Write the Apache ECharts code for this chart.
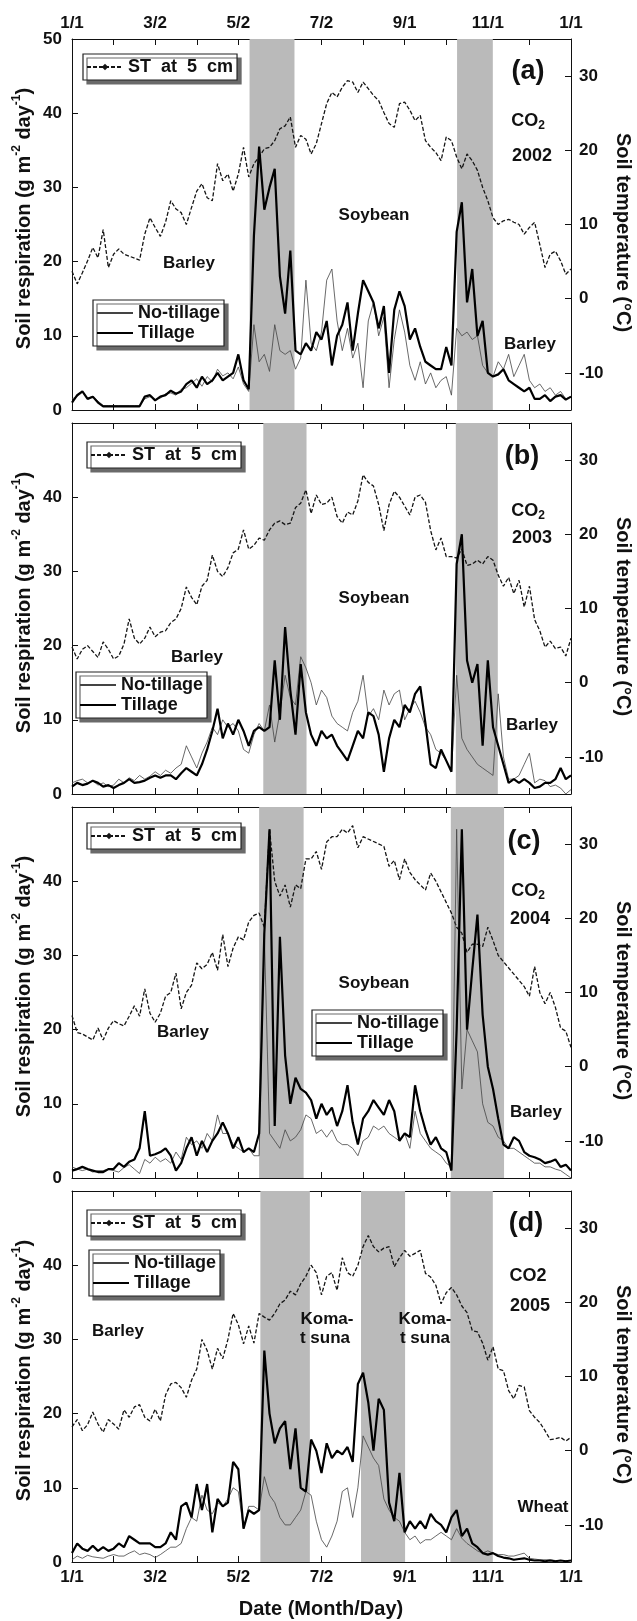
<!DOCTYPE html>
<html>
<head>
<meta charset="utf-8">
<script src="https://cdn.jsdelivr.net/npm/echarts@6/dist/echarts.min.js"></script>
<style>
  html, body { margin: 0; padding: 0; background: #fff; }
  #chart { width: 637px; height: 1621px; }
</style>
</head>
<body>
<div id="chart"></div>
<script>
// x axis: months since 1/1, one sample every 1/8 month
const SAMPLES_PER_MONTH = 8;
const dateLabels = ['1/1', '3/2', '5/2', '7/2', '9/1', '11/1', '1/1'];
const tempTicks = [-10, 0, 10, 20, 30];
const years = ['2002', '2003', '2004', '2005'];

// 2002 (a)
const stA = [
  3.7, 2.0, 3.5, 5.1, 6.9, 5.5, 9.3, 4.2,
  6.0, 6.7, 6.0, null, null, 5.2, 8.7, 10.9,
  9.6, 8.4, 10.3, 13.2, 12.1, 11.6, 10.0, 12.3,
  14.5, 15.5, 13.6, 13.2, 18.2, 15.9, 16.8, 14.5,
  16.8, 20.4, 16.4, 18.2, 19.1, 20.2, 20.4, 21.3,
  22.9, 23.3, 24.5, 20.4, 22.0, 21.5, 19.5, 20.9,
  23.6, 26.3, 27.8, 27.2, 28.5, 29.4, 29.2, 27.8,
  29.2, 28.3, 27.4, 26.7, 25.1, 23.6, 23.1, 26.3,
  26.5, 25.4, 24.0, 24.7, 21.3, 20.4, 19.7, 18.6,
  21.8, 21.3, 19.1, 17.5, 19.5, 18.6, 17.3, 15.0,
  13.2, 10.9, 10.0, 10.5, 10.7, 10.3, 10.0, 8.7,
  9.6, 10.3, 7.3, 4.2, 6.0, 6.4, 5.1, 3.3,
  4.0];
const ntA = [
  1.5, 1.8, 2.4, 1.6, 1.8, 1.2, 0.6, 0.6,
  0.6, 0.6, 0.6, 0.6, 0.6, 0.6, 1.5, 1.8,
  1.4, 1.6, 2.2, 2.3, 2.0, 2.8, 3.0, 3.6,
  4.2, 3.2, 4.5, 3.8, 5.5, 4.6, 5.0, 4.2,
  5.8, 3.5, 2.5, 11.5, 6.5, 7.5, 5.2, 11.5,
  8.0, 7.5, 8.0, 5.5, 7.0, 17.5, 9.0, 8.0,
  10.5, 17.5, 19.0, 12.0, 8.0, 11.0, 7.0, 9.0,
  3.0, 12.0, 14.5, 10.0, 12.5, 3.0, 9.5, 13.5,
  10.5, 6.0, 4.0, 6.5, 3.5, 5.0, 3.0, 4.0,
  4.5, 2.0, 11.0, 10.0, 10.5, 9.5, 10.0, 6.0,
  5.0, 4.5, 6.5, 5.5, 7.5, 4.5, 6.0, 7.5,
  4.0, 3.0, 3.5, 2.5, 3.0, 2.0, 2.5, 1.5,
  1.8];
const tlA = [
  1.0, 2.0, 2.5, 1.5, 1.8, 1.0, 0.5, 0.5,
  0.5, 0.5, 0.5, 0.5, 0.5, 0.5, 1.8, 2.0,
  1.3, 1.8, 2.0, 2.6, 2.2, 2.5, 3.5, 4.0,
  3.0, 4.5, 3.5, 4.0, 5.0, 4.0, 4.5, 5.0,
  7.5, 4.0, 2.8, 23.5, 35.5, 27.0, 30.0, 32.5,
  18.0, 13.0, 21.5, 8.0, 7.5, 9.0, 8.0, 10.5,
  9.5, 12.0, 6.0, 10.0, 11.5, 14.5, 8.0, 13.0,
  17.5, 16.0, 14.5, 11.0, 14.0, 5.0, 13.5, 16.0,
  14.0, 9.5, 11.0, 8.5, 6.5, 6.0, 5.5, 5.5,
  8.5, 6.0, 24.0, 28.0, 14.5, 19.0, 10.0, 12.0,
  5.0, 4.5, 4.8, 5.5, 4.0, 3.5, 3.0, 2.5,
  3.0, 1.5, 1.5, 2.0, 1.2, 1.8, 2.0, 1.4,
  1.8];
const bandsA = [[4.27, 5.35], [9.26, 10.12]];

// 2003 (b)
const stB = [
  4.8, 3.2, 4.5, 5.0, 4.2, 3.4, 5.5, 4.5,
  3.2, 3.6, 5.2, 8.6, 6.0, 5.2, 6.0, 7.5,
  6.2, 6.8, 7.0, 8.1, 8.6, 10.0, 12.9, 11.5,
  10.5, 13.0, 13.8, 17.2, 15.0, 14.3, 15.5, 17.5,
  18.0, 20.6, 18.0, 18.5, 19.5, 19.2, 20.6, 21.5,
  21.8, 21.3, 21.5, 23.6, 24.2, 26.0, 22.8, 25.3,
  24.0, 24.2, 25.0, 22.4, 21.5, 23.0, 22.6, 24.5,
  28.0, 27.0, 26.5, 24.0, 20.5, 24.0, 25.8, 25.0,
  23.8, 22.6, 25.0, 25.3, 24.3, 20.5, 17.9, 19.5,
  17.0, 17.0, 16.8, 18.0, 15.8, 16.0, 16.5, 16.0,
  17.0, 16.5, 14.5, 13.0, 14.2, 12.0, 13.8, 10.2,
  13.0, 8.5, 7.0, 4.8, 5.6, 4.6, 4.8, 3.6,
  6.0];
const ntB = [
  1.5, 1.8, 2.0, 1.5, 1.8, 1.2, 1.5, 1.0,
  1.2, 2.0, 1.5, 2.2, 1.8, 2.5, 2.0, 2.4,
  3.0, 2.5, 3.2, 2.8, 3.5, 4.0, 6.5, 5.0,
  3.5, 5.5, 7.0, 9.0, 8.0, 10.0, 9.0, 9.5,
  8.5, 6.0, 5.5, 8.0, 9.5, 8.5, 12.0, 7.0,
  11.0, 16.0, 13.0, 12.0, 18.5, 17.0, 15.0, 12.0,
  14.0, 13.0, 10.5, 9.5, 9.0, 8.5, 11.0, 12.5,
  16.0, 10.5, 11.5, 10.0, 14.0, 12.0, 13.5, 14.0,
  10.0, 11.5, 12.5, 11.0, 9.0, 8.0, 6.0, 5.5,
  4.5, 3.0, 16.0, 7.5, 6.0, 5.0, 4.0, 3.5,
  3.0, 2.5, 13.5, 5.0, 2.0, 2.0, 2.5, 4.0,
  5.5, 1.5, 2.0, 1.8, 1.0, 1.2, 0.8, 0.0,
  0.6];
const tlB = [
  1.0, 1.5, 1.2, 1.4, 1.8, 1.5, 1.0, 1.2,
  0.8, 1.2, 1.5, 2.0, 1.5, 1.6, 1.8, 2.2,
  2.5, 2.2, 2.5, 2.5, 2.0, 2.8, 3.5, 3.0,
  2.5, 4.0, 6.0, 8.5, 11.5, 7.5, 9.5, 8.0,
  10.0, 8.5, 6.5, 8.5, 9.0, 8.5, 9.0, 18.0,
  10.0, 22.5, 14.0, 8.0, 17.5, 11.0, 8.0, 6.5,
  8.5, 7.5, 8.0, 6.5, 5.5, 4.5, 6.5, 8.5,
  7.5, 11.0, 10.5, 8.0, 3.0, 7.5, 10.0, 9.0,
  12.0, 11.0, 13.5, 14.5, 9.5, 4.0, 3.5, 6.0,
  4.5, 3.0, 31.0, 35.0, 18.0, 15.0, 17.5, 6.5,
  18.0, 9.0, 6.5, 4.0, 1.5, 2.0, 1.5, 2.0,
  1.5, 0.8, 1.0, 1.5, 1.5, 2.0, 3.5, 2.0,
  2.5];
const bandsB = [[4.60, 5.64], [9.23, 10.24]];

// 2004 (c)
const stC = [
  6.9, 4.6, 4.4, 4.0, 3.6, 5.2, 3.6, 5.2,
  6.2, 5.8, 5.5, 6.8, 8.2, 6.8, 10.5, 7.2,
  6.0, 7.2, 9.5, 10.0, 12.6, 7.8, 10.0, 11.0,
  14.0, 13.2, 13.8, 15.4, 13.0, 17.8, 13.5, 16.0,
  17.5, 17.1, 19.5, 20.4, 20.7, 18.8, 32.0, 25.0,
  23.0, 24.5, 21.5, 24.5, 24.0, 28.0, 28.0, 29.0,
  26.6, 30.3, 31.0, 31.0, 32.0, 31.5, 32.5, 29.5,
  31.0, null, null, null, 29.7, 27.0, 27.8, 25.2,
  28.0, 26.2, 25.2, 24.5, 23.8, 26.1, 25.0, null,
  null, 20.7, 18.8, 18.0, 15.4, 16.5, 16.5, 16.2,
  18.8, 17.0, 15.0, null, null, null, null, 10.8,
  9.5, 13.5, 10.0, 8.5, 10.0, 8.0, 5.2, 4.8,
  2.6];
const ntC = [
  1.5, 1.2, 1.0, 1.2, 0.8, 1.0, 1.0, 1.2,
  1.0, 0.8, 1.4, 1.8, 1.2, 0.6, 2.5, 2.0,
  2.8, 2.2, 2.6, 2.0, 3.5, 2.5, 5.5, 4.5,
  5.0, 4.0, 6.0, 5.0, 8.5, 6.0, 6.0, 4.5,
  4.0, 3.5, 4.0, 3.0, 3.0, 33.0, 6.0, 5.0,
  4.0, 6.5, 5.0, 5.5, 6.5, 8.5, 8.0, 6.0,
  6.5, 5.5, 6.5, 5.0, 4.5, 4.5, 4.0, 3.0,
  5.0, 5.5, 7.0, 6.5, 7.0, 6.0, 5.5, 5.0,
  6.0, 4.0, 9.0, 6.0, 5.0, 4.0, 3.5, 3.0,
  2.0, 1.5, 47.0, 12.0, 20.0, 18.5, 17.0, 10.0,
  7.5, 7.0, 5.5, 5.0, 4.0, 4.0, 3.5, 3.0,
  2.5, 2.0, 2.0, 1.5, 1.5, 1.2, 1.0, 0.5,
  0.0];
const tlC = [
  1.0, 1.2, 1.5, 1.2, 1.0, 0.8, 0.8, 1.2,
  1.2, 2.0, 1.5, 2.2, 2.5, 4.0, 9.0, 3.0,
  3.2, 3.5, 4.0, 3.0, 1.0, 2.0, 4.0, 5.5,
  3.0, 5.0, 3.5, 5.0, 6.0, 7.5, 6.0, 4.0,
  5.5, 3.5, 4.0, 3.5, 6.0, 33.0, 47.0, 7.0,
  32.5, 16.5, 10.0, 13.5, 12.0, 11.5, 10.5, 8.0,
  10.0, 8.5, 9.5, 7.0, 9.0, 12.5, 7.5, 4.5,
  8.0, 9.0, 10.5, 9.5, 8.5, 10.5, 9.0, 5.0,
  6.0, 5.5, 12.5, 9.0, 6.5, 4.5, 5.5, 4.0,
  3.5, 1.0, 20.0, 47.0, 20.0, 28.0, 35.5, 22.0,
  15.0, 12.0, 8.0, 4.5, 4.0, 5.5, 5.0, 3.5,
  3.0, 2.8, 2.5, 2.0, 2.2, 2.5, 1.5, 1.8,
  1.0];
const bandsC = [[4.50, 5.57], [9.11, 10.39]];

// 2005 (d)
const stD = [
  3.2, 4.2, 2.7, 3.5, 5.2, 3.6, 2.5, 4.2,
  3.6, 2.9, 5.5, 4.5, 5.9, 6.2, 4.5, 4.0,
  5.6, 4.0, 7.5, 9.0, 9.2, 8.5, 7.2, 9.5,
  11.0, 15.0, 13.5, 11.0, 13.8, 12.4, 15.0, 18.5,
  17.0, 14.4, 16.8, 14.5, 18.5, 18.0, 17.6, 18.5,
  19.8, 20.3, 21.5, 21.0, 22.5, 23.5, 25.0, 24.0,
  21.0, 23.5, 24.0, 21.6, 26.0, 24.0, 23.5, 25.0,
  27.5, 29.0, 27.5, 26.8, 27.3, 27.5, 24.8, 26.0,
  27.0, 26.2, 26.6, 27.0, 23.9, 23.4, 22.3, 19.8,
  21.3, 22.0, 21.0, 19.5, 18.6, 16.2, 16.0, 14.5,
  12.2, 14.0, 11.0, 10.8, 8.1, 7.0, 8.8, 8.6,
  5.4, 4.5, 3.8, 2.7, 1.5, 1.6, 1.8, 1.3,
  1.8];
const ntD = [
  0.3, 0.8, 0.5, 0.9, 0.7, 0.6, 0.5, 0.8,
  1.0, 0.8, 0.8, 1.2, 1.5, 1.0, 1.2, 1.0,
  0.6, 1.0, 1.5, 2.0, 2.0, 2.5, 4.5, 6.0,
  5.5, 9.0, 7.0, 6.5, 8.0, 7.5, 8.5, 10.0,
  9.5, 4.5, 7.5, 7.5, 7.0, 11.5, 9.0, 8.0,
  6.0, 5.0, 5.0, 6.0, 7.0, 9.5, 9.0, 5.5,
  3.0, 2.0, 3.5, 5.5, 9.5, 10.0, 6.0, 10.0,
  17.0, 15.5, 14.0, 13.0, 8.5, 7.0, 6.0, 5.5,
  4.0, 3.0, 3.5, 2.5, 3.0, 3.0, 3.5, 4.0,
  3.5, 3.0, 4.5, 3.2, 2.5, 2.0, 1.5, 1.2,
  1.5, 1.2, 1.0, 1.0, 0.8, 0.8, 1.0, 1.2,
  0.5, 0.4, 0.3, 0.3, 0.3, 0.2, 0.2, 0.2,
  0.2];
const tlD = [
  1.2, 2.5, 1.8, 1.5, 2.2, 1.5, 2.0, 1.5,
  1.8, 2.5, 2.0, 3.5, 3.0, 2.5, 2.5, 2.5,
  2.0, 2.0, 2.5, 4.0, 3.0, 7.5, 8.0, 6.0,
  10.5, 7.0, 10.5, 4.0, 8.5, 7.5, 8.0, 13.5,
  12.5, 4.5, 7.0, 6.5, 7.0, 28.5, 20.0, 16.0,
  18.0, 19.0, 12.5, 18.0, 10.0, 9.5, 16.5, 15.0,
  12.0, 16.0, 14.0, 15.0, 14.5, 15.5, 13.5, 24.0,
  25.5, 21.5, 15.0, 22.0, 20.5, 8.0, 5.5, 12.0,
  4.0, 5.5, 4.5, 5.5, 4.5, 6.5, 5.5, 5.0,
  4.0, 6.0, 7.0, 3.5, 4.5, 2.5, 2.0, 1.2,
  1.0, 1.2, 0.8, 0.6, 0.5, 0.3, 0.4, 0.5,
  0.3, 0.2, 0.2, 0.1, 0.2, 0.1, 0.2, 0.1,
  0.2];
const bandsD = [[4.53, 5.72], [6.95, 8.01], [9.10, 10.12]];

const FONT = 'Liberation Sans';
const INK = '#111';
const BAND = '#bababa';
const ST_NAME = 'ST  at  5  cm';

const panels = [
  { st: stA, nt: ntA, tl: tlA, bands: bandsA },
  { st: stB, nt: ntB, tl: tlB, bands: bandsB },
  { st: stC, nt: ntC, tl: tlC, bands: bandsC },
  { st: stD, nt: ntD, tl: tlD, bands: bandsD }
];
const gridTops = [39, 423, 807, 1191];
const PLOT_H = 371;
const stLegendPos = [[83, 54], [87, 442], [87, 823], [87, 1210]];
const ntLegendPos = [[93, 300], [76, 672], [312, 1010], [89, 1250]];

const toXY = arr => arr.map((v, i) => [i / SAMPLES_PER_MONTH, v]);
const tickFont = { fontFamily: FONT, fontWeight: 'bold', fontSize: 17, color: INK };
const lineAx = { show: true, onZero: false, lineStyle: { color: INK, width: 1 } };
const tickIn = { show: true, inside: true, length: 6, lineStyle: { color: INK, width: 1 } };

const grid = [], xAxis = [], yAxis = [], series = [], legend = [], graphic = [];

panels.forEach((p, g) => {
  grid.push({ left: 72, right: 66, top: gridTops[g], height: PLOT_H });
  ['bottom', 'top'].forEach(pos => {
    const showLab = (pos === 'bottom' && g === 3) || (pos === 'top' && g === 0);
    xAxis.push({
      gridIndex: g, type: 'value', position: pos, min: 0, max: 12, interval: 1,
      axisLine: lineAx, axisTick: tickIn, splitLine: { show: false },
      axisLabel: Object.assign({ show: showLab, margin: 7,
        formatter: v => (v % 2 === 0 ? dateLabels[v / 2] : '') }, tickFont)
    });
  });
  yAxis.push({
    gridIndex: g, type: 'value', position: 'left', min: 0, max: 50, interval: 10,
    axisLine: lineAx, axisTick: tickIn, splitLine: { show: false },
    axisLabel: Object.assign({ margin: 10,
      formatter: v => (v === 50 && g > 0 ? '' : String(v)) }, tickFont)
  });
  yAxis.push({
    gridIndex: g, type: 'value', position: 'right', min: -15, max: 35,
    axisLine: lineAx, splitLine: { show: false },
    axisTick: Object.assign({ customValues: tempTicks }, tickIn),
    axisLabel: Object.assign({ margin: 8, customValues: tempTicks }, tickFont)
  });

  series.push({
    type: 'line', name: 'band' + g, xAxisIndex: 2 * g, yAxisIndex: 2 * g,
    data: [], silent: true, z: 1,
    markArea: { silent: true, itemStyle: { color: BAND },
      data: p.bands.map(b => [{ xAxis: b[0] }, { xAxis: b[1] }]) }
  });
  series.push({
    type: 'line', name: ST_NAME, xAxisIndex: 2 * g, yAxisIndex: 2 * g + 1,
    data: toXY(p.st), connectNulls: true, symbol: 'diamond', symbolSize: 5,
    showSymbol: false, z: 3,
    lineStyle: { color: '#151515', width: 1.3, type: [4, 2] },
    itemStyle: { color: '#151515' }
  });
  series.push({
    type: 'line', name: 'No-tillage', xAxisIndex: 2 * g, yAxisIndex: 2 * g,
    data: toXY(p.nt), symbol: 'none', z: 4,
    lineStyle: { color: '#444', width: 0.8 }, itemStyle: { color: '#444' }
  });
  series.push({
    type: 'line', name: 'Tillage', xAxisIndex: 2 * g, yAxisIndex: 2 * g,
    data: toXY(p.tl), symbol: 'none', z: 5,
    lineStyle: { color: '#000', width: 2.2 }, itemStyle: { color: '#000' }
  });

  const box = (names, pos, hideSymbol) => ({
    data: names, left: pos[0], top: pos[1], orient: 'vertical',
    itemGap: 2, itemWidth: 36, itemHeight: 8, padding: [4, 4, 4, 3],
    backgroundColor: '#fff', borderColor: '#222', borderWidth: 1.2,
    shadowColor: '#6a6a6a', shadowBlur: 0, shadowOffsetX: 4, shadowOffsetY: 4,
    selectedMode: false,
    itemStyle: hideSymbol ? { opacity: 0 } : {},
    textStyle: { fontFamily: FONT, fontWeight: 'bold', fontSize: 18, color: INK }
  });
  legend.push(box([ST_NAME], stLegendPos[g], false));
  legend.push(box(['No-tillage', 'Tillage'], ntLegendPos[g], true));

  const cy = gridTops[g] + PLOT_H / 2;
  graphic.push({
    type: 'text', x: 24, y: cy - 6, rotation: Math.PI / 2,
    style: { text: '{m|Soil respiration (g m}{s|-2}{m| day}{s|-1}{m|)}',
      align: 'center', verticalAlign: 'middle', fill: INK,
      rich: {
        m: { fontFamily: FONT, fontWeight: 'bold', fontSize: 20, lineHeight: 26, verticalAlign: 'middle', fill: INK },
        s: { fontFamily: FONT, fontWeight: 'bold', fontSize: 12, lineHeight: 12, verticalAlign: 'top', fill: INK }
      } }
  });
  graphic.push({
    type: 'text', x: 623, y: cy + 8, rotation: -Math.PI / 2,
    style: { text: 'Soil temperature (°C)', align: 'center', verticalAlign: 'middle',
      fill: INK, fontFamily: FONT, fontWeight: 'bold', fontSize: 20 }
  });
});

function label(text, x, y, size) {
  return { type: 'text', x: x, y: y, z: 50,
    style: { text: text, align: 'center', verticalAlign: 'middle', fill: INK,
      fontFamily: FONT, fontWeight: 'bold', fontSize: size } };
}
function co2(x, y, sub) {
  return { type: 'text', x: x, y: y, z: 50,
    style: { text: sub ? '{m|CO}{s|2}' : '{m|CO2}', align: 'center', verticalAlign: 'middle', fill: INK,
      rich: {
        m: { fontFamily: FONT, fontWeight: 'bold', fontSize: 18, lineHeight: 22, verticalAlign: 'middle', fill: INK },
        s: { fontFamily: FONT, fontWeight: 'bold', fontSize: 12, lineHeight: 10, verticalAlign: 'bottom', fill: INK }
      } } };
}

graphic.push(
  label('(a)', 528, 72, 27), co2(528, 121, true), label(years[0], 532, 156, 18),
  label('Soybean', 374, 215, 17), label('Barley', 189, 263, 17), label('Barley', 530, 344, 17),
  label('(b)', 522, 457, 27), co2(528, 511, true), label(years[1], 532, 538, 18),
  label('Soybean', 374, 598, 17), label('Barley', 197, 657, 17), label('Barley', 532, 725, 17),
  label('(c)', 524, 842, 27), co2(528, 891, true), label(years[2], 530, 919, 18),
  label('Soybean', 374, 983, 17), label('Barley', 183, 1032, 17), label('Barley', 536, 1112, 17),
  label('(d)', 526, 1224, 27), co2(528, 1276, false), label(years[3], 530, 1306, 18),
  label('Barley', 118, 1331, 17),
  label('Koma-', 327, 1319, 17), label('t suna', 325, 1338, 17),
  label('Koma-', 425, 1319, 17), label('t suna', 425, 1338, 17),
  label('Wheat', 543, 1507, 17),
  label('Date (Month/Day)', 321, 1609, 20)
);

const chart = echarts.init(document.getElementById('chart'));
chart.setOption({
  animation: false,
  backgroundColor: '#fff',
  grid, xAxis, yAxis, series, legend, graphic
});
</script>
</body>
</html>
